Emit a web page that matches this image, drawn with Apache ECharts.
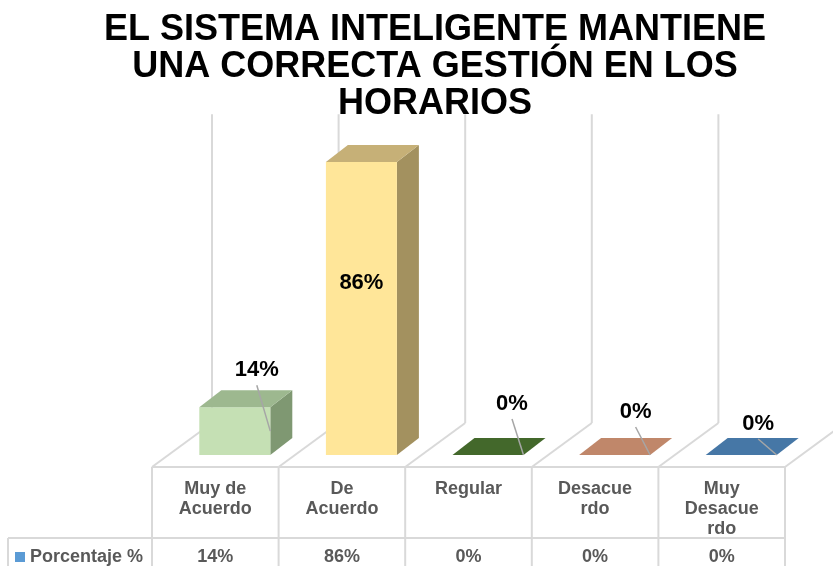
<!DOCTYPE html>
<html>
<head>
<meta charset="utf-8">
<script src="https://cdn.jsdelivr.net/npm/echarts@6/dist/echarts.min.js"></script>
<style>
  html, body { margin: 0; padding: 0; background: #fff; }
  #chart { width: 833px; height: 566px; }
</style>
</head>
<body>
<div id="chart"></div>
<script>
var titleText = "EL SISTEMA INTELIGENTE MANTIENE\nUNA CORRECTA GESTIÓN EN LOS\nHORARIOS";
var seriesName = "Porcentaje %";
var categories = ["Muy de\nAcuerdo", "De\nAcuerdo", "Regular", "Desacue\nrdo", "Muy\nDesacue\nrdo"];
var values = [14, 86, 0, 0, 0];

// colores de cada barra: frente, tapa, lado
var frontColors = ["#C5E0B4", "#FFE699", "#43682B", "#C0876A", "#4677A6"];
var topColors = ["#9DB88F", "#C6B077", "#43682B", "#C0876A", "#4677A6"];
var sideColors = ["#7F9872", "#A3915F", "#2F4A1F", "#9C6A50", "#36608A"];
// posicion de cada etiqueta respecto al centro superior del frente
var labelOffsets = [[22, -37], [0, 121], [24, -51], [21, -43], [17, -31]];

var FONT = "Liberation Sans, Arial, sans-serif";
var BAR_W = 71;
var SHIFT = 19.5;           // desplazamiento de la barra dentro de la categoria
var DEPTH = [22, -17];      // profundidad de la barra
var FLOOR = [60, -44];      // profundidad del piso
var GRID_LINE = "#D9D9D9";

function line(x1, y1, x2, y2, color, w) {
  return {
    type: "line",
    shape: { x1: x1, y1: y1, x2: x2, y2: y2 },
    style: { stroke: color, lineWidth: w }
  };
}

function renderFrame(params, api) {
  var i = params.dataIndex;
  var c = api.coord([i, 0]);
  var bw = api.size([1, 0])[0];
  var yF = c[1] + 12;
  var yTop = api.coord([i, 100])[1];
  var yRow = yF + 71;
  var yEnd = 566;
  var children = [];
  var xs = [c[0] - bw / 2];
  if (i === values.length - 1) xs.push(c[0] + bw / 2);
  xs.forEach(function (x) {
    children.push(line(x, yF, x + FLOOR[0], yF + FLOOR[1], GRID_LINE, 2));
    children.push(line(x + FLOOR[0], yF + FLOOR[1], x + FLOOR[0], yTop, GRID_LINE, 2));
    children.push(line(x, yF, x, yEnd, GRID_LINE, 2));
  });
  children.push(line(c[0] - bw / 2, yF, c[0] + bw / 2, yF, GRID_LINE, 2));
  children.push(line(c[0] - bw / 2, yRow, c[0] + bw / 2, yRow, GRID_LINE, 2));
  if (i === 0) {
    children.push(line(8, yRow, c[0] - bw / 2, yRow, GRID_LINE, 2));
    children.push(line(8, yRow, 8, yEnd, GRID_LINE, 2));
  }
  return { type: "group", children: children };
}

function renderBar(params, api) {
  var i = params.dataIndex;
  var v = api.value(1);
  var top = api.coord([i, v]);
  var base = api.coord([i, 0]);
  var x0 = top[0] + SHIFT - BAR_W / 2;
  var x1 = x0 + BAR_W;
  var yT = top[1], yB = base[1];
  var dx = DEPTH[0], dy = DEPTH[1];
  var children = [];
  if (yB - yT > 0.5) {
    children.push({
      type: "polygon",
      shape: { points: [[x1, yT], [x1 + dx, yT + dy], [x1 + dx, yB + dy], [x1, yB]] },
      style: { fill: sideColors[i] }
    });
    children.push({
      type: "rect",
      shape: { x: x0, y: yT, width: BAR_W, height: yB - yT },
      style: { fill: frontColors[i] }
    });
  }
  children.push({
    type: "polygon",
    shape: { points: [[x0, yT], [x1, yT], [x1 + dx, yT + dy], [x0 + dx, yT + dy]] },
    style: { fill: topColors[i] }
  });
  var off = labelOffsets[i];
  var lx = top[0] + SHIFT + off[0];
  var ly = yT + off[1];
  if (off[1] < 0) {
    children.push(line(lx, ly + 15, x1, (yT + yB) / 2, "#A6A6A6", 1.5));
  }
  children.push({
    type: "text",
    x: lx,
    y: ly,
    style: {
      text: v + "%",
      fill: "#000",
      font: "bold 22px " + FONT,
      align: "center",
      verticalAlign: "middle"
    }
  });
  return { type: "group", children: children };
}

var chart = echarts.init(document.getElementById("chart"));
chart.setOption({
  animation: false,
  backgroundColor: "#fff",
  title: {
    text: titleText,
    left: 430,
    top: 7,
    textAlign: "center",
    textStyle: {
      fontFamily: FONT,
      fontSize: 36,
      fontWeight: "bold",
      color: "#000",
      lineHeight: 37
    }
  },
  legend: {
    data: [seriesName],
    left: 10,
    top: 542,
    icon: "rect",
    itemWidth: 10,
    itemHeight: 10,
    selectedMode: false,
    textStyle: { fontFamily: FONT, fontSize: 18, fontWeight: "bold", color: "#595959", lineHeight: 20 }
  },
  grid: {
    left: 152,
    right: 48,
    top: 114.3,
    bottom: 111,
    outerBoundsMode: "none"
  },
  xAxis: [
    {
      type: "category",
      data: categories,
      position: "bottom",
      offset: 0,
      axisLine: { show: false },
      axisTick: { show: false },
      axisLabel: {
        interval: 0,
        margin: 24,
        fontFamily: FONT,
        fontSize: 18,
        fontWeight: "bold",
        color: "#595959",
        lineHeight: 20
      }
    },
    {
      type: "category",
      data: categories,
      position: "bottom",
      offset: 0,
      axisLine: { show: false },
      axisTick: { show: false },
      axisLabel: {
        interval: 0,
        margin: 92,
        fontFamily: FONT,
        fontSize: 18,
        fontWeight: "bold",
        color: "#595959",
        lineHeight: 20,
        formatter: function (val, idx) {
          return values[idx] + "%";
        }
      }
    }
  ],
  yAxis: {
    type: "value",
    min: 0,
    max: 100,
    show: false
  },
  series: [
    {
      type: "custom",
      name: "frame",
      z: 1,
      silent: true,
      renderItem: renderFrame,
      data: values.map(function (v, i) { return [i, v]; })
    },
    {
      type: "custom",
      name: seriesName,
      z: 2,
      itemStyle: { color: "#5B9BD5" },
      renderItem: renderBar,
      encode: { x: 0, y: 1 },
      data: values.map(function (v, i) { return [i, v]; })
    }
  ]
});
</script>
</body>
</html>
